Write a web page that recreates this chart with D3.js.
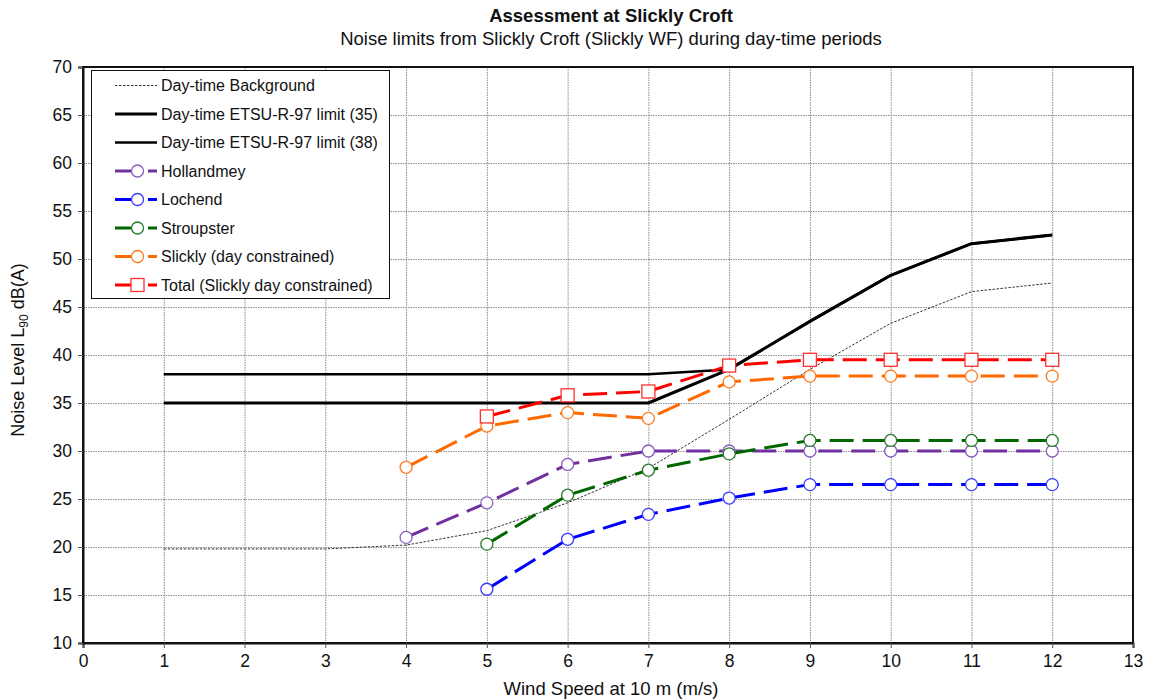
<!DOCTYPE html>
<html>
<head>
<meta charset="utf-8">
<script src="https://cdn.jsdelivr.net/npm/d3@7"></script>
<style>
  html, body { margin: 0; padding: 0; background: #fff; }
  svg { display: block; font-family: Arial, "Liberation Sans", sans-serif; }
</style>
</head>
<body>
<svg id="chart" width="1149" height="700"></svg>
<script>
// Wind speed categories (m/s at 10 m height)
const windSpeeds = [1, 2, 3, 4, 5, 6, 7, 8, 9, 10, 11, 12];

// Day-time background noise and ETSU-R-97 limits, dB(A)
const background = [19.8, 19.8, 19.8, 20.2, 21.7, 24.6, 28.2, 33.3, 38.5, 43.3, 46.6, 47.5];
const limit35    = [35, 35, 35, 35, 35, 35, 35, 38.5, 43.5, 48.3, 51.6, 52.5];
const limit38    = [38, 38, 38, 38, 38, 38, 38, 38.5, 43.5, 48.3, 51.6, 52.5];

// Predicted levels per receptor (null where not predicted)
const hollandmey = [null, null, null, 21.0, 24.6, 28.6, 30.0, 30.0, 30.0, 30.0, 30.0, 30.0];
const lochend    = [null, null, null, null, 15.6, 20.8, 23.4, 25.1, 26.5, 26.5, 26.5, 26.5];
const stroupster = [null, null, null, null, 20.3, 25.4, 28.0, 29.7, 31.1, 31.1, 31.1, 31.1];
const slickly    = [null, null, null, 28.3, 32.6, 34.0, 33.4, 37.2, 37.8, 37.8, 37.8, 37.8];
const total      = [null, null, null, null, 33.6, 35.8, 36.2, 38.9, 39.5, 39.5, 39.5, 39.5];

const xTicks = [0, 1, 2, 3, 4, 5, 6, 7, 8, 9, 10, 11, 12, 13];
const yTicks = [10, 15, 20, 25, 30, 35, 40, 45, 50, 55, 60, 65, 70];

const svg = d3.select("#chart");
const plot = { left: 83, right: 1133, top: 67, bottom: 643 };

const x = d3.scaleLinear().domain([0, 13]).range([plot.left, plot.right]);
const y = d3.scaleLinear().domain([10, 70]).range([plot.bottom, plot.top]);

// Gridlines
const grid = svg.append("g").attr("stroke", "#8a8a8a").attr("stroke-width", 1)
  .attr("stroke-dasharray", "1.5,1");
grid.selectAll("line.v").data(xTicks.slice(1, -1)).join("line")
  .attr("x1", d => x(d) + 0.5).attr("x2", d => x(d) + 0.5)
  .attr("y1", plot.top).attr("y2", plot.bottom);
grid.selectAll("line.h").data(yTicks.slice(1, -1)).join("line")
  .attr("y1", d => Math.round(y(d)) + 0.5).attr("y2", d => Math.round(y(d)) + 0.5)
  .attr("x1", plot.left).attr("x2", plot.right);

// Plot frame
svg.append("rect")
  .attr("x", plot.left).attr("y", plot.top)
  .attr("width", plot.right - plot.left).attr("height", plot.bottom - plot.top)
  .attr("fill", "none").attr("stroke", "#111").attr("stroke-width", 2);

// Axes
const xAxis = svg.append("g").attr("transform", `translate(0,${plot.bottom})`)
  .call(d3.axisBottom(x).tickValues(xTicks).tickSize(5).tickPadding(7));
const yAxis = svg.append("g").attr("transform", `translate(${plot.left},0)`)
  .call(d3.axisLeft(y).tickValues(yTicks).tickSize(5).tickPadding(6));
[xAxis, yAxis].forEach(a => {
  a.select(".domain").attr("stroke", "#111").attr("stroke-width", 2);
  a.selectAll(".tick line").attr("stroke", "#555");
  a.selectAll(".tick text").attr("font-size", 17.5).attr("fill", "#111")
    .attr("font-family", "Arial, 'Liberation Sans', sans-serif");
});

// Series definitions
const series = [
  { name: "Day-time Background", values: background, color: "#333", width: 1, dash: "2.5,1.5", marker: null },
  { name: "Day-time ETSU-R-97 limit (35)", values: limit35, color: "#000", width: 3, dash: null, marker: null },
  { name: "Day-time ETSU-R-97 limit (38)", values: limit38, color: "#000", width: 2.5, dash: null, marker: null },
  { name: "Hollandmey", values: hollandmey, color: "#7030A0", stroke: "#8a5cbf", width: 3, dash: "24,9", marker: "circle" },
  { name: "Lochend", values: lochend, color: "#0000FF", stroke: "#3b3bff", width: 3, dash: "24,9", marker: "circle" },
  { name: "Stroupster", values: stroupster, color: "#006600", stroke: "#2a7a2a", width: 3, dash: "24,9", marker: "circle" },
  { name: "Slickly (day constrained)", values: slickly, color: "#FF6A00", stroke: "#ff7a22", width: 3, dash: "24,9", marker: "circle" },
  { name: "Total (Slickly day constrained)", values: total, color: "#FF0000", stroke: "#ff3030", width: 3, dash: "24,9", marker: "square" }
];

const line = d3.line()
  .defined(d => d.v !== null)
  .x(d => x(d.w)).y(d => y(d.v));

const lines = svg.append("g");
series.forEach(s => {
  const pts = windSpeeds.map((w, i) => ({ w, v: s.values[i] }));
  lines.append("path")
    .datum(pts)
    .attr("d", line)
    .attr("fill", "none")
    .attr("stroke", s.color)
    .attr("stroke-width", s.width)
    .attr("stroke-dasharray", s.dash)
    .attr("stroke-linejoin", "round");
});

function drawMarker(g, s, cx, cy) {
  if (s.marker === "circle") {
    g.append("circle").attr("cx", cx).attr("cy", cy).attr("r", 6)
      .attr("fill", "#fff").attr("stroke", s.stroke).attr("stroke-width", 1.3);
  } else if (s.marker === "square") {
    g.append("rect").attr("x", cx - 6.5).attr("y", cy - 6.5).attr("width", 13).attr("height", 13)
      .attr("fill", "#fff").attr("stroke", s.stroke).attr("stroke-width", 1.3);
  }
}

const markers = svg.append("g");
series.filter(s => s.marker).forEach(s => {
  windSpeeds.forEach((w, i) => {
    if (s.values[i] !== null) drawMarker(markers, s, x(w), y(s.values[i]));
  });
});

// Legend
const legend = svg.append("g");
legend.append("rect").attr("x", 91.5).attr("y", 70.5).attr("width", 298).attr("height", 228)
  .attr("fill", "#fff").attr("stroke", "#111").attr("stroke-width", 1);
series.forEach((s, i) => {
  const ly = 85.5 + i * 28.5;
  if (s.marker) {
    legend.append("line").attr("x1", 115).attr("x2", 133).attr("y1", ly).attr("y2", ly)
      .attr("stroke", s.color).attr("stroke-width", s.width);
    legend.append("line").attr("x1", 148).attr("x2", 157).attr("y1", ly).attr("y2", ly)
      .attr("stroke", s.color).attr("stroke-width", s.width);
    drawMarker(legend, s, 137.5, ly);
  } else {
    legend.append("line").attr("x1", 115).attr("x2", 157).attr("y1", ly).attr("y2", ly)
      .attr("stroke", s.color).attr("stroke-width", s.width)
      .attr("stroke-dasharray", s.dash);
  }
  legend.append("text").attr("x", 161).attr("y", ly + 5.5)
    .attr("font-size", 16).attr("fill", "#111").text(s.name);
});

// Titles
svg.append("text").attr("x", 611).attr("y", 22).attr("text-anchor", "middle")
  .attr("font-size", 18.5).attr("font-weight", "bold").attr("fill", "#111")
  .text("Assessment at Slickly Croft");
svg.append("text").attr("x", 611).attr("y", 45).attr("text-anchor", "middle")
  .attr("font-size", 18.5).attr("fill", "#111")
  .text("Noise limits from Slickly Croft (Slickly WF) during day-time periods");

// Axis titles
svg.append("text").attr("x", 611).attr("y", 695).attr("text-anchor", "middle")
  .attr("font-size", 18.5).attr("fill", "#111").text("Wind Speed at 10 m (m/s)");
const yt = svg.append("text").attr("transform", "translate(24,350) rotate(-90)")
  .attr("text-anchor", "middle").attr("font-size", 18).attr("fill", "#111");
yt.append("tspan").text("Noise Level L");
yt.append("tspan").attr("font-size", 12).attr("dy", 4).text("90");
yt.append("tspan").attr("dy", -4).text(" dB(A)");
</script>
</body>
</html>
